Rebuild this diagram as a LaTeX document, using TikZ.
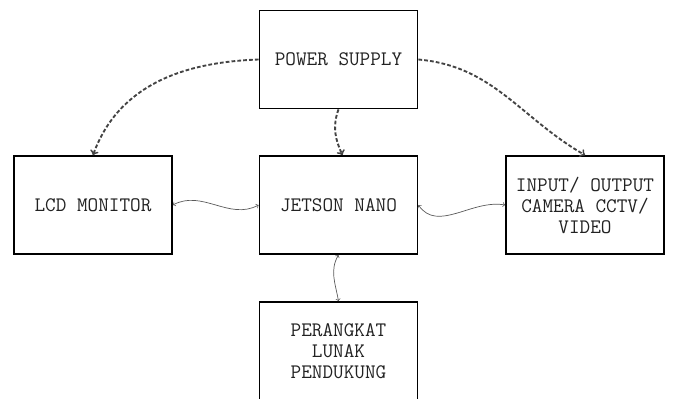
\documentclass[tikz,border=0pt]{standalone}
\usepackage{fontspec}
\usepackage{tikz}
\usetikzlibrary{shapes,arrows, positioning}
\definecolor{dotgray}{HTML}{444444}
\definecolor{wiregray}{HTML}{5A5A5A}
\definecolor{textgray}{HTML}{222222}
\tikzstyle{block} = [rectangle, draw, line width = 1.2pt, minimum width = 4.75cm, minimum height = 2.95cm, align = center, text = textgray, font = \ttfamily\fontsize{17.6}{17.9}\selectfont]
\tikzstyle{power} = [draw = dotgray, line width = 1.6pt, dash pattern = on 3.2pt off 1.8pt, ->, >=to]
\tikzstyle{wire} = [draw = wiregray, line width = 0.6pt, <->, >=to]

\begin{document}
\begin{tikzpicture}
			\useasboundingbox (0, 0) rectangle (20.19, -11.94);
			\node [block] (ps) at (10.155, -1.785) {POWER SUPPLY};
			\node [block] (lcd) at (2.79, -6.15) {LCD MONITOR};
			\node [block] (jetson) at (10.155, -6.15) {JETSON NANO};
			\node [block] (cam) at (17.55, -6.15) {INPUT/ OUTPUT\\CAMERA CCTV/\\VIDEO};
			\node [block] (soft) at (10.155, -10.53) {PERANGKAT\\LUNAK\\PENDUKUNG};
			
			\path [power] (ps.west) to [out = 182, in = 70] (lcd.north);
			\path [power] (ps.south) to [out = 250, in = 115] ([xshift = 0.12cm]jetson.north);
			\path [power] (ps.east) to [out = -5, in = 150] (cam.north);
			\path [wire] (lcd.east) to [out = 28, in = 208] (jetson.west);
			\path [wire] (jetson.east) to [out = -55, in = 170] (cam.west);
			\path [wire] (jetson.south) to [out = 240, in = 100] (soft.north);
		\end{tikzpicture}
\end{document}
